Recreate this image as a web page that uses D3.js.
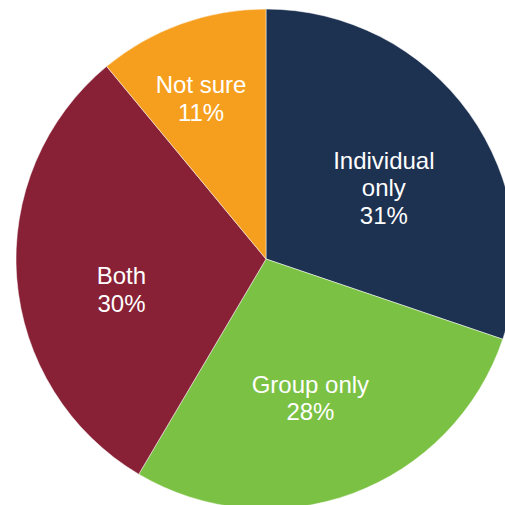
<!DOCTYPE html>
<html>
<head>
<meta charset="utf-8">
<script src="https://cdn.jsdelivr.net/npm/d3@7/dist/d3.min.js"></script>
<style>
  html, body { margin: 0; padding: 0; background: #ffffff; }
  svg { display: block; }
</style>
</head>
<body>
<svg id="chart" width="505" height="505"></svg>
<script>
// ---- data ----
const categories = ["Individual only", "Group only", "Both", "Not sure"];
const values = [30.2, 28.3, 30.5, 11.0];           // slice sizes as drawn
const percentLabels = ["31%", "28%", "30%", "11%"];  // printed labels
const nameLines = [["Individual", "only"], ["Group only"], ["Both"], ["Not sure"]];
const colors = ["#1d3150", "#7bc143", "#882036", "#f69f1e"];

// ---- layout ----
const W = 505, H = 505;
const cx = 266, cy = 259, R = 250;
const fontSize = 24, lineH = 27.5;
const labelRadius = [145, 145, 145, 174];
const labelNudge = [[0, 13], [-6, 3], [0, 19], [-6, 3]];

const svg = d3.select("#chart");
const g = svg.append("g").attr("transform", `translate(${cx},${cy})`);

const data = categories.map((c, i) => ({
  name: c, value: values[i], pct: percentLabels[i], lines: nameLines[i], color: colors[i], idx: i
}));

const pie = d3.pie().sort(null).value(d => d.value).startAngle(0).endAngle(2 * Math.PI);
const arcs = pie(data);
const arc = d3.arc().innerRadius(0).outerRadius(R);

g.selectAll("path.slice")
  .data(arcs)
  .join("path")
  .attr("class", "slice")
  .attr("d", arc)
  .attr("fill", d => d.data.color)
  .attr("stroke", "#ffffff")
  .attr("stroke-width", 0.5);

g.selectAll("text.lbl")
  .data(arcs)
  .join("text")
  .attr("class", "lbl")
  .attr("text-anchor", "middle")
  .attr("fill", "#ffffff")
  .attr("font-family", "'Liberation Sans', Arial, Helvetica, sans-serif")
  .attr("font-size", fontSize)
  .each(function (d) {
    const i = d.data.idx;
    const la = d3.arc().innerRadius(labelRadius[i]).outerRadius(labelRadius[i]);
    const [x0, y0] = la.centroid(d);
    const x = x0 + labelNudge[i][0];
    const y = y0 + labelNudge[i][1];
    const lines = d.data.lines.concat([d.data.pct]);
    const n = lines.length;
    const capH = fontSize * 0.716;
    const sel = d3.select(this);
    lines.forEach((t, k) => {
      sel.append("tspan")
        .attr("x", x)
        .attr("y", y + (k - (n - 1) / 2) * lineH + capH / 2)
        .text(t);
    });
  });
</script>
</body>
</html>
